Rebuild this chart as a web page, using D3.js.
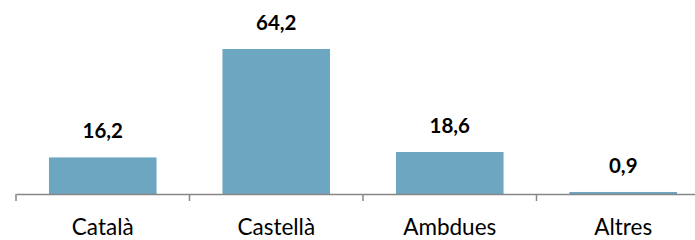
<!DOCTYPE html>
<html><head><meta charset="utf-8">
<script src="https://cdn.jsdelivr.net/npm/d3@7"></script>
<style>body{margin:0;background:#fff}</style>
</head><body>
<svg id="c" width="695" height="240"></svg>
<script>
const categories = ["Català", "Castellà", "Ambdues", "Altres"];
const values = [16.2, 64.2, 18.6, 0.9];
const valueLabels = ["16,2", "64,2", "18,6", "0,9"];

const svg = d3.select("#c");
const base = 194;
const x = d3.scaleBand().domain(categories).range([16, 710]).paddingInner(0).paddingOuter(0);
const y = d3.scaleLinear().domain([0, 64.2]).range([base, 49]);
const font = "Lato, 'Open Sans', sans-serif";

const bw = x.bandwidth() * 0.62;
svg.selectAll("rect.bar").data(values).join("rect")
  .attr("x", (d, i) => x(categories[i]) + (x.bandwidth() - bw) / 2)
  .attr("width", bw)
  .attr("y", d => y(d))
  .attr("height", d => base - y(d))
  .attr("fill", "#6ca6c1");

svg.selectAll("text.val").data(values).join("text")
  .attr("x", (d, i) => x(categories[i]) + x.bandwidth() / 2)
  .attr("y", d => y(d) - 19)
  .attr("text-anchor", "middle")
  .attr("font-family", font).attr("font-weight", "bold").attr("font-size", 20.5)
  .attr("fill", "#000")
  .text((d, i) => valueLabels[i]);

const axis = svg.append("g").attr("transform", `translate(0,${base})`)
  .call(d3.axisBottom(x).tickSize(0).tickSizeOuter(0));
axis.select(".domain").attr("stroke", "#878787").attr("stroke-width", 1.5);
axis.selectAll(".tick text").attr("font-family", font).attr("font-size", 22.5)
  .attr("fill", "#000").attr("dy", 0).attr("y", 41);
// boundary ticks
const bounds = categories.map(c => x(c));
axis.selectAll("line.b").data(bounds).join("line")
  .attr("x1", d => d).attr("x2", d => d).attr("y1", 0).attr("y2", 7)
  .attr("stroke", "#878787").attr("stroke-width", 1.5);
</script>
</body></html>
